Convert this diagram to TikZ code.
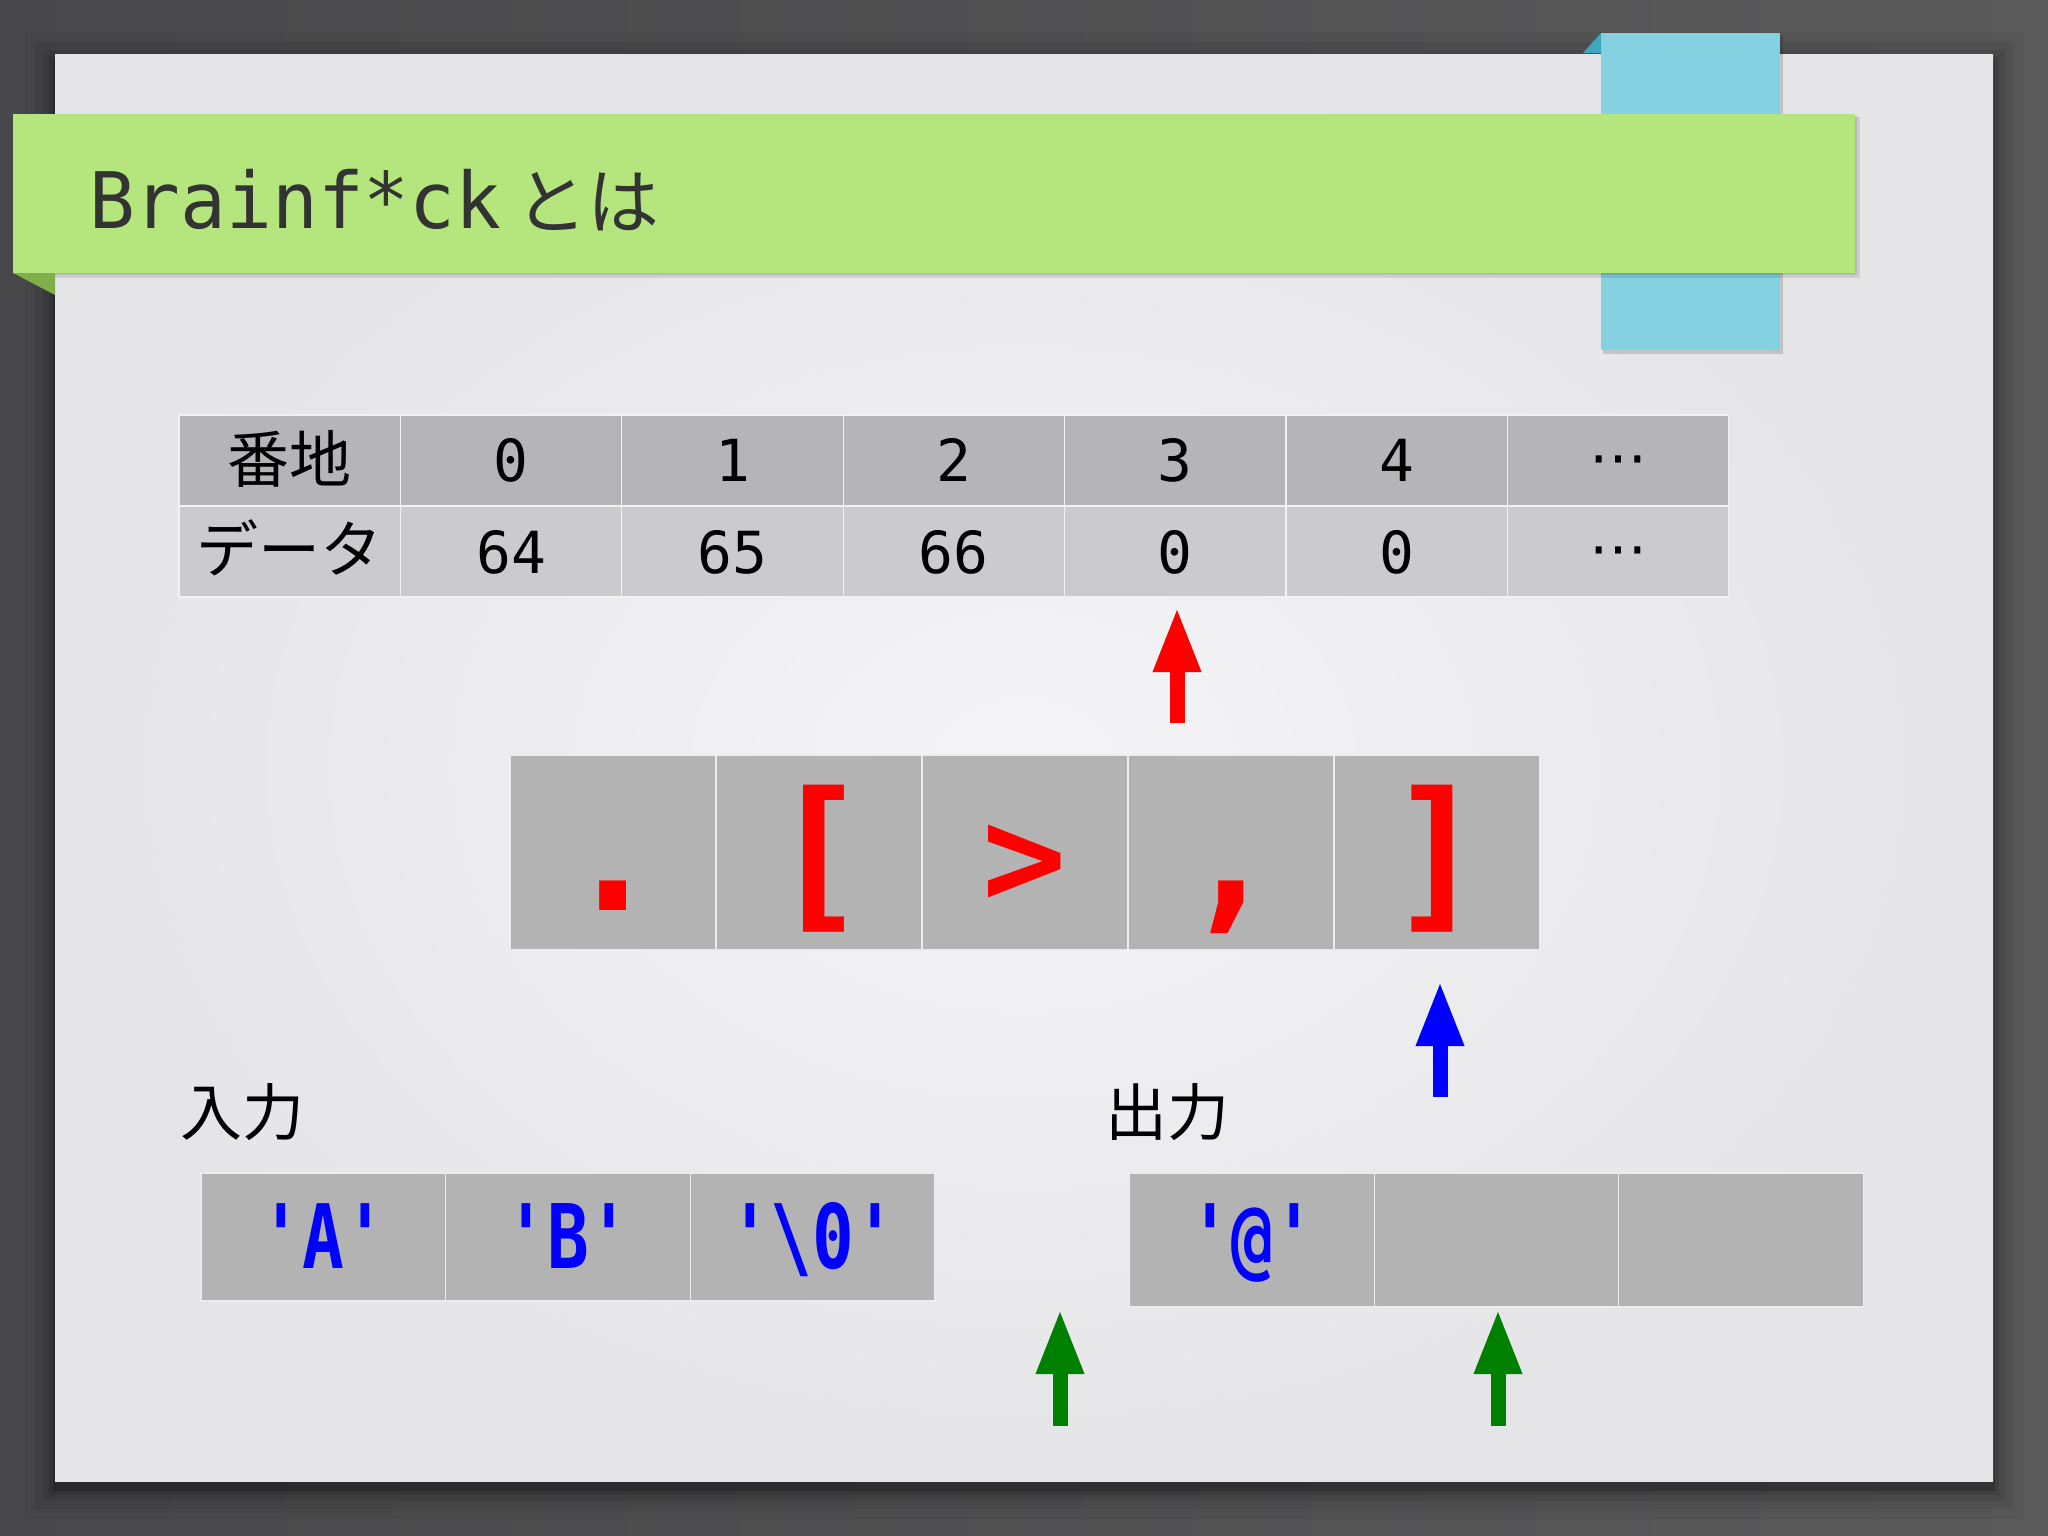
\documentclass[tikz,border=0pt]{standalone}
\usepackage{fontspec}
\setmonofont{DejaVu Sans Mono}
\newfontfamily\jp{Noto Sans CJK JP}
\newfontfamily\dvs{DejaVu Sans}
\usetikzlibrary{arrows.meta}
\definecolor{bgdark}{HTML}{48484A}
\definecolor{bglight}{HTML}{5A5A5B}
\definecolor{slidein}{HTML}{F5F5F7}
\definecolor{slideout}{HTML}{E5E4E6}
\definecolor{titlegreen}{HTML}{B5E67D}
\definecolor{foldgreen}{HTML}{7FAF4A}
\definecolor{tabblue}{HTML}{84D1E1}
\definecolor{tabdark}{HTML}{3FA6C0}
\definecolor{titlegray}{HTML}{333333}
\definecolor{rowa}{HTML}{B5B4B6}
\definecolor{rowb}{HTML}{CBCACC}
\definecolor{tapegray}{HTML}{B3B3B4}
\definecolor{arrgreen}{HTML}{008000}
\tikzset{
  hcell/.style={rectangle, fill=rowa, draw=white!90!gray, line width=1.2pt, minimum width=221.4pt, minimum height=91pt, inner sep=0pt},
  dcell/.style={hcell, fill=rowb},
  ccell/.style={rectangle, fill=tapegray, draw=white!85!gray, line width=1.2pt, minimum width=206pt, minimum height=195pt, inner sep=0pt},
  icell/.style={rectangle, fill=tapegray, draw=white!85!gray, line width=1.2pt, minimum width=244.6pt, minimum height=128pt, inner sep=0pt},
  ocell/.style={icell, minimum height=134pt},
  tnum/.style={anchor=base, inner sep=0pt, font=\ttfamily\fontsize{58}{60}\selectfont},
  tjp/.style={anchor=base, inner sep=0pt, font=\jp\fontsize{62}{64}\selectfont},
  code/.style={anchor=base, inner sep=0pt, text=red, font=\ttfamily\bfseries\fontsize{165}{170}\selectfont},
  ioch/.style={anchor=base, inner sep=0pt, text=blue, font=\ttfamily\bfseries\fontsize{89}{92}\selectfont},
  lbl/.style={anchor=base west, inner sep=0pt, font=\jp\fontsize{62}{64}\selectfont},
  bigarrow/.style={line width=15pt, -{Triangle[length=65pt,width=44pt]}}
}
\begin{document}
\begin{tikzpicture}[x=1pt,y=-1pt]
\useasboundingbox (0,0) rectangle (2048,1535);
% background
\shade[left color=bgdark, right color=bglight] (0,0) rectangle (2048,1535);
% slide shadow
\foreach \d/\o in {30/0.04,20/0.06,12/0.08,6/0.12,2/0.18}
  \fill[black, opacity=\o] (55-\d,54-\d+8) rectangle (1993+\d,1481+\d+8);
% slide
\shade[inner color=slidein, outer color=slideout] (55,54) rectangle (1993,1481);
% blue tab
\fill[black, opacity=0.15] (1603,36) rectangle (1783,354);
\fill[tabblue] (1601,33) rectangle (1780,350);
\fill[tabdark] (1583,53) -- (1601,33) -- (1601,53) -- cycle;
% green title bar
\fill[black, opacity=0.10] (16,117) rectangle (1860,278);
\fill[black, opacity=0.10] (15,116) rectangle (1857,275);
\fill[titlegreen] (13,114) rectangle (1855,273);
\fill[foldgreen] (13,273) -- (55,273) -- (55,295) -- cycle;
\node[anchor=base west, inner sep=0pt, text=titlegray] (title) at (89,228)
  {\fontsize{78}{80}\selectfont\scalebox{0.975}[1]{\ttfamily Brainf*ck}\hspace{14pt}{\jp\fontsize{72}{74}\selectfont とは}};
% memory table
\foreach \i in {0,...,6} {
  \node[hcell] (h\i) at ({179+221.4*(\i+0.5)},460.5) {};
  \node[dcell] (d\i) at ({179+221.4*(\i+0.5)},551.5) {};
}
\node[tjp] (hl) at (h0 |- 0,482) {番地};
\node[tnum] (h1t) at (h1 |- 0,481) {0};
\node[tnum] (h2t) at (h2 |- 0,481) {1};
\node[tnum] (h3t) at (h3 |- 0,481) {2};
\node[tnum] (h4t) at (h4 |- 0,481) {3};
\node[tnum] (h5t) at (h5 |- 0,481) {4};
\node[anchor=base, inner sep=0pt, font=\dvs\fontsize{58}{60}\selectfont] (h6t) at (h6 |- 0,477) {⋯};
\node[tjp] (dl) at (d0 |- 0,572) {データ};
\node[tnum] (d1t) at (d1 |- 0,573) {64};
\node[tnum] (d2t) at (d2 |- 0,573) {65};
\node[tnum] (d3t) at (d3 |- 0,573) {66};
\node[tnum] (d4t) at (d4 |- 0,573) {0};
\node[tnum] (d5t) at (d5 |- 0,573) {0};
\node[anchor=base, inner sep=0pt, font=\dvs\fontsize{58}{60}\selectfont] (d6t) at (d6 |- 0,568) {⋯};
% code tape
\foreach \i in {0,...,4} {
  \node[ccell] (c\i) at ({510+206*(\i+0.5)},852.5) {};
}
\node[code] (c0t) at (c0 |- 0,910) {.};
\node[code] (c1t) at (c1 |- 0,910) {[};
\node[code] (c2t) at (c2 |- 0,905) {\scalebox{0.85}{>}};
\node[code] (c3t) at (c3 |- 0,910) {,};
\node[code] (c4t) at (c4 |- 0,910) {]};
% labels
\node[lbl] (inl) at (180,1135) {入力};
\node[lbl] (outl) at (1105,1135) {出力};
% input / output tapes
\foreach \i in {0,...,2} {
  \node[icell] (i\i) at ({201+244.67*(\i+0.5)},1237) {};
  \node[ocell] (o\i) at ({1130+244.33*(\i+0.5)},1240) {};
}
\node[ioch] (i0t) at (i0 |- 0,1268) {\scalebox{0.78}[1]{'A'}};
\node[ioch] (i1t) at (i1 |- 0,1268) {\scalebox{0.78}[1]{'B'}};
\node[ioch] (i2t) at (i2 |- 0,1268) {\scalebox{0.78}[1]{'\textbackslash 0'}};
\node[ioch] (o0t) at (o0 |- 0,1268) {\scalebox{0.78}[1]{'@'}};
% arrows
\coordinate (rtail) at (1177,723);
\coordinate (rtip) at (1177,607);
\coordinate (btail) at (1440,1097);
\coordinate (btip) at (1440,981);
\coordinate (g1tail) at (1060,1426);
\coordinate (g1tip) at (1060,1309);
\coordinate (g2tail) at (1498,1426);
\coordinate (g2tip) at (1498,1309);
\draw[bigarrow, red] (rtail) -- (rtip);
\draw[bigarrow, blue] (btail) -- (btip);
\draw[bigarrow, arrgreen] (g1tail) -- (g1tip);
\draw[bigarrow, arrgreen] (g2tail) -- (g2tip);
\end{tikzpicture}
\end{document}
